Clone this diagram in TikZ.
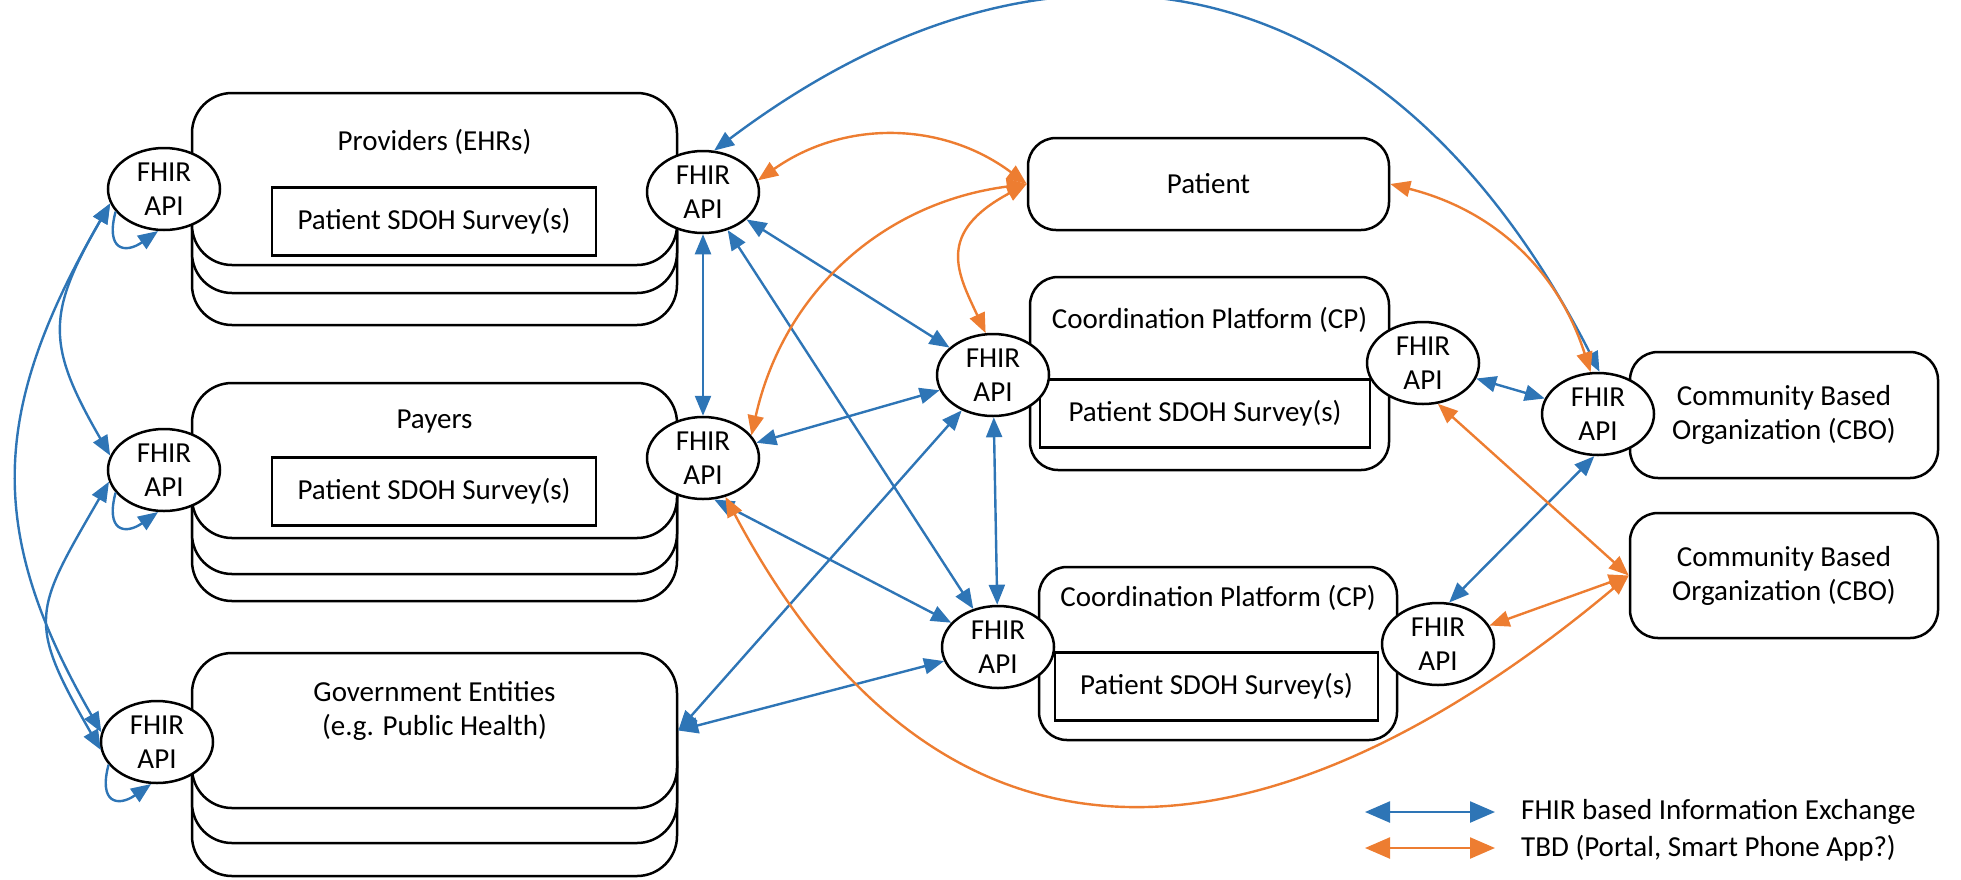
\documentclass[tikz,border=0pt]{standalone}
\usepackage{fontspec}
\setmainfont{Carlito}
\usetikzlibrary{arrows.meta,shapes.geometric,shadows,positioning}
\definecolor{fhirblue}{RGB}{46,117,182}
\definecolor{tbdorange}{RGB}{237,125,49}
\tikzstyle{every node}+=[font=\fontsize{29pt}{34pt}\selectfont,inner sep=0pt]
\tikzstyle{party}=[draw,fill=white,line width=2.5pt,rounded corners=28pt,align=center]
\tikzstyle{survey}=[draw,fill=white,line width=2.5pt,minimum height=68pt]
\tikzstyle{api}=[draw,ellipse,fill=white,line width=2.5pt,minimum width=112pt,minimum height=82pt,align=center]
\tikzstyle{fhir}=[fhirblue,line width=2.4pt,<->]
\tikzstyle{tbd}=[tbdorange,line width=2.4pt,<->]
\tikzstyle{key}=[>={Triangle[length=25pt,width=21pt]}]
\tikzset{stack/.style 2 args={
	general shadow={shadow yshift=-#2,draw,fill=white,line width=2.5pt},
	general shadow={shadow yshift=-#1,draw,fill=white,line width=2.5pt}}}
\newcommand{\drawlinks}[2][fhir]{
	\foreach \a/\b in {#2}{
		\draw[#1] (\a) -- (\b);
	}
}

\begin{document}
\begin{tikzpicture}[x=1pt,y=1pt,>={Triangle[length=20pt,width=16pt]}]
\useasboundingbox (0,0) rectangle (1961,-879);

% left column
\node[party,rounded corners=40pt,minimum width=485pt,minimum height=172pt,stack={28pt}{60pt}] (prov) at (434.5,-179) {};
\node[party,rounded corners=40pt,minimum width=485pt,minimum height=155pt,stack={36pt}{63pt}] (pay) at (434.5,-460.5) {};
\node[party,rounded corners=40pt,minimum width=485pt,minimum height=155pt,stack={35pt}{68pt}] (gov) at (434.5,-730.5) {};
\node (provT) at (434.5,-142) {Providers (EHRs)};
\node[survey,minimum width=324pt] (provS) at (434,-221.5) {Patient SDOH Survey(s)};
\node (payT) at (434.5,-422) {Payers};
\node[survey,minimum width=324pt] (payS) at (434,-491.5) {Patient SDOH Survey(s)};
\node[align=center] (govT) at (434.5,-711) {Government Entities\\(e.g. Public Health)};

% middle and right
\node[party,minimum width=361pt,minimum height=92pt] (patient) at (1208.5,-184) {Patient};
\node[party,minimum width=359pt,minimum height=193pt] (cp1) at (1209.5,-373.5) {};
\node (cp1T) at (1209.5,-320) {Coordination Platform (CP)};
\node[survey,minimum width=330pt] (cp1S) at (1205,-413.5) {Patient SDOH Survey(s)};
\node[party,minimum width=358pt,minimum height=173pt] (cp2) at (1218,-653.5) {};
\node (cp2T) at (1218,-598) {Coordination Platform (CP)};
\node[survey,minimum width=323pt] (cp2S) at (1216.5,-686.5) {Patient SDOH Survey(s)};
\node[party,minimum width=308pt,minimum height=126pt] (cbo1) at (1784,-415) {Community Based\\Organization (CBO)};
\node[party,minimum width=308pt,minimum height=125pt] (cbo2) at (1784,-575.5) {Community Based\\Organization (CBO)};

% FHIR API end points
\node[api] (LP) at (164,-189) {FHIR\\API};
\node[api] (LPa) at (164,-470) {FHIR\\API};
\node[api] (LG) at (157,-742) {FHIR\\API};
\node[api] (RP) at (703,-192) {FHIR\\API};
\node[api] (RPa) at (703,-458) {FHIR\\API};
\node[api] (M1) at (993,-375) {FHIR\\API};
\node[api] (M2) at (998,-647) {FHIR\\API};
\node[api] (R1) at (1423,-363) {FHIR\\API};
\node[api] (R2) at (1438,-644) {FHIR\\API};
\node[api] (C1) at (1598,-414) {FHIR\\API};

% FHIR exchange
\draw[fhir] (LP.195) to[out=240,in=120,looseness=1.3] (LPa.165);
\draw[fhir] (LP.195) to[out=240,in=120,looseness=1.14] (LG.170);
\draw[fhir] (LPa.192) to[out=240,in=120,looseness=1.43] (LG.188);
\foreach \n in {LP,LPa,LG}
	\draw[fhir,->] (\n.205) to[out=255,in=215,looseness=2.2] (\n.262);
\drawlinks{RP/RPa,RP/M1,RP/M2,RPa/M1,RPa.-75/M2,gov.east/M1,gov.east/M2,M1/M2,R1/C1,C1.265/R2.75}
\draw[fhir] (RP.75) .. controls +(37:420) and +(117:470) .. (C1.88);

% TBD exchange
\draw[tbd] (RP.12) to[bend left=36] (patient.west);
\draw[tbd] (patient.west) to[bend right=35] (RPa.25);
\draw[tbd] (patient.west) .. controls +(208:104) and +(115:66) .. (M1.100);
\draw[tbd] (patient.east) to[bend left=29] (C1.100);
\draw[tbd] (RPa.-60) .. controls +(-62:560) and +(220:330) .. (cbo2.west);
\drawlinks[tbd]{R1.-70/cbo2.west,cbo2.west/R2}

% legend
\coordinate (fA) at (1365,-812);
\coordinate (fB) at (1495,-812);
\coordinate (tA) at (1365,-848);
\coordinate (tB) at (1495,-848);
\draw[fhir,key] (fA) -- (fB);
\draw[tbd,key] (tA) -- (tB);
\node[right=26pt of fB] (fT) {FHIR based Information Exchange};
\node[right=26pt of tB] (tT) {TBD (Portal, Smart Phone App?)};
\end{tikzpicture}
\end{document}
